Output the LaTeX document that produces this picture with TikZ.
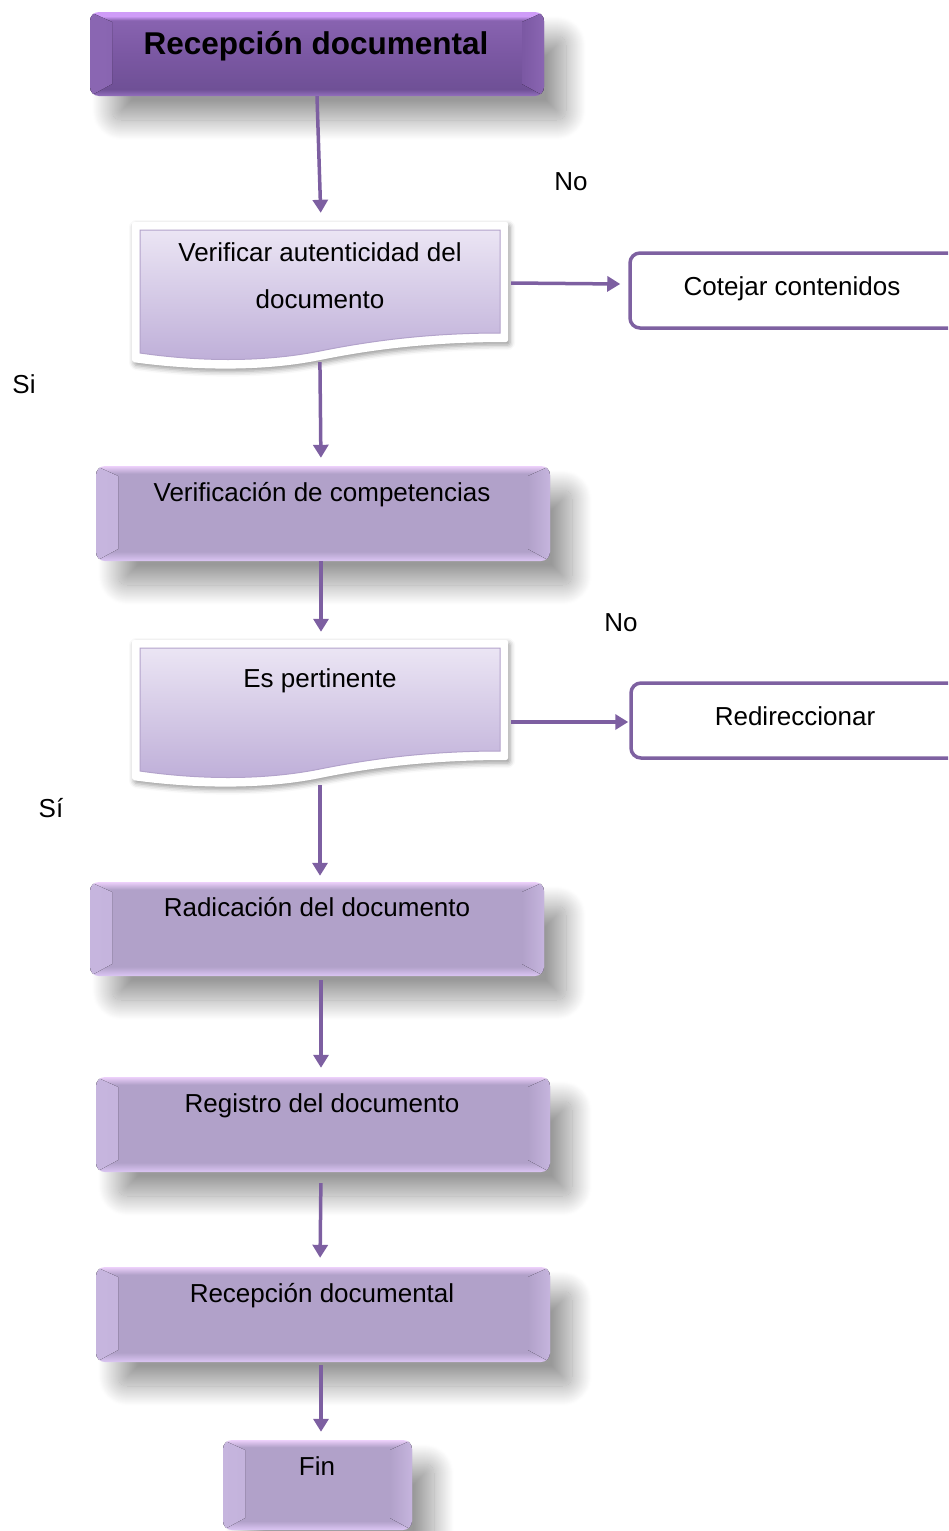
\documentclass[tikz,border=0pt]{standalone}
\usepackage{fontspec}
\setmainfont{Liberation Sans}
\usetikzlibrary{arrows.meta,shadows.blur}

\definecolor{arrowc}{HTML}{7D5FA1}
\definecolor{framec}{HTML}{7E61A1}
\definecolor{lbBot}{HTML}{DCC6F4}
\definecolor{lbMid}{HTML}{B1A1C9}
\definecolor{lbTop}{HTML}{EDD0FB}
\definecolor{lbSide}{HTML}{C6B5DE}
\definecolor{pkBot}{HTML}{9470BE}
\definecolor{pkLow}{HTML}{6F5096}
\definecolor{pkMid}{HTML}{7B58A3}
\definecolor{pkHigh}{HTML}{8863B0}
\definecolor{pkTop}{HTML}{CF9CF8}
\definecolor{pkSide}{HTML}{8A66B2}
\definecolor{docTop}{HTML}{EBE5F4}
\definecolor{docBot}{HTML}{BEAED8}
\definecolor{docEdge}{HTML}{B3A3CB}

% light button: thin bright bands at top and bottom
\pgfdeclareverticalshading{lilacbevel}{100bp}{color(0bp)=(lbBot); color(25bp)=(lbBot);
  color(30bp)=(lbMid); color(71bp)=(lbMid); color(75bp)=(lbTop); color(100bp)=(lbTop)}
% dark header button
\pgfdeclareverticalshading{plumbevel}{100bp}{color(0bp)=(pkBot); color(25bp)=(pkBot);
  color(29bp)=(pkLow); color(50bp)=(pkMid); color(70bp)=(pkHigh); color(72.5bp)=(pkTop); color(100bp)=(pkTop)}

\tikzset{
  btnshadow/.style={blur shadow={shadow xshift=22pt, shadow yshift=-24pt,
      shadow blur radius=20pt, shadow blur steps=40, shadow opacity=40}},
  % bevelled side faces of a button
  sidebevel/.style 2 args={path picture={
      \fill[sharp corners, left color=#1, right color=#2]
        (path picture bounding box.north west) -- ([shift={(22,10)}]path picture bounding box.north west)
        -- ([shift={(22,-12)}]path picture bounding box.south west) -- (path picture bounding box.south west) -- cycle;
      \fill[sharp corners, right color=#1, left color=#2]
        (path picture bounding box.north east) -- ([shift={(-22,10)}]path picture bounding box.north east)
        -- ([shift={(-22,-12)}]path picture bounding box.south east) -- (path picture bounding box.south east) -- cycle;
  }},
  lightbtn/.style={rectangle, rounded corners=9pt, shading=lilacbevel, btnshadow, sidebevel={lbSide}{lbMid},
      minimum width=454pt, minimum height=95pt, inner sep=0pt},
  darkbtn/.style={rectangle, rounded corners=9pt, shading=plumbevel, btnshadow, sidebevel={pkSide}{pkMid},
      minimum width=454pt, minimum height=84pt, inner sep=0pt},
  sidebox/.style={rectangle, rounded corners=10pt, draw=framec, line width=3.5pt, fill=white,
      minimum width=350pt, minimum height=75pt, inner sep=0pt},
  ghost/.style={rectangle, inner sep=0pt, minimum width=376pt, minimum height=148pt},
  lbl/.style={font=\fontsize{26}{31}\selectfont, inner sep=0pt, text height=0.75em, text depth=0.21em},
  arr/.style={draw=arrowc, line width=3.5pt, -{Triangle[length=13pt,width=15pt]}},
  docpic/.pic={
    \path[fill=white, blur shadow={shadow xshift=2pt, shadow yshift=-3pt,
        shadow blur radius=5pt, shadow opacity=40}, rounded corners=2pt]
      (-188,-74) -- (188,-74) -- (188,46)
      .. controls (100,46) and (40,56) .. (0,64)
      .. controls (-60,76) and (-130,74) .. (-188,66) -- cycle;
    \path[top color=docTop, bottom color=docBot, draw=docEdge, line width=1pt]
      (-180,-66) -- (180,-66) -- (180,37)
      .. controls (100,37) and (40,47) .. (0,55)
      .. controls (-60,67) and (-125,65) .. (-180,57) -- cycle;
  }
}

\begin{document}
\begin{tikzpicture}[x=1pt,y=-1pt]
\useasboundingbox (0,0) rectangle (948,1531);
\clip (0,0) rectangle (948,1531);

% process steps
\node[darkbtn] (top) at (317,54) {};
\node[lbl, font=\bfseries\fontsize{31.5}{36}\selectfont] (ttop) at (316,52) {Recepción documental};

\pic at (320,296) {docpic};
\node[ghost] (ver) at (320,296) {};
\node[lbl, align=center, font=\fontsize{26}{47}\selectfont, text height=, text depth=] (tver) at (320,276)
  {Verificar autenticidad del\\documento};

\node[sidebox] (cot) at (805,290.5) {};
\node[lbl] (tcot) at (792,293) {Cotejar contenidos};

\node[lightbtn] (comp) at (323,513.5) {};
\node[lbl] (tcomp) at (322,499) {Verificación de competencias};

\pic at (320,714) {docpic};
\node[ghost] (pert) at (320,714) {};
\node[lbl] (tpert) at (320,685) {Es pertinente};

\node[sidebox] (redir) at (806,720.5) {};
\node[lbl] (tredir) at (795,723) {Redireccionar};

\node[lightbtn, minimum height=94pt] (radic) at (317,929) {};
\node[lbl] (tradic) at (317,914) {Radicación del documento};

\node[lightbtn] (regis) at (323,1124.5) {};
\node[lbl] (tregis) at (322,1110) {Registro del documento};

\node[lightbtn] (recep) at (323,1314.5) {};
\node[lbl] (trecep) at (322,1300) {Recepción documental};

\node[lightbtn, minimum width=189pt, minimum height=90pt] (fin) at (317.5,1485) {};
\node[lbl] (tfin) at (317,1473) {Fin};

% branch labels
\node[lbl] (no1) at (571,188) {No};
\node[lbl] (si1) at (24,391) {Si};
\node[lbl] (no2) at (621,629) {No};
\node[lbl] (si2) at (51,815) {Sí};

% connectors
\draw[arr, shorten >=9pt] (top.south) -- ([xshift=1pt]ver.north);
\draw[arr, shorten <=-8pt, shorten >=8pt] (ver.south) -- ([xshift=1pt]ver.south |- comp.north);
\draw[arr, shorten >=8pt] ([xshift=-2pt]comp.south) -- ([xshift=-2pt]comp.south |- pert.north);
\draw[arr, shorten <=-3pt, shorten >=6pt] (pert.south) -- (pert.south |- radic.north);
\draw[arr, shorten <=4pt, shorten >=9pt] ([xshift=4pt]radic.south) -- ([xshift=-2pt]regis.north);
\draw[arr, shorten <=11pt, shorten >=9pt] ([xshift=-2pt]regis.south) -- ([xshift=-3pt]recep.north);
\draw[arr, shorten <=3pt, shorten >=8pt] ([xshift=-2pt]recep.south) -- ([xshift=3.5pt]fin.north);
\draw[arr] ([shift={(3,-13)}]ver.east) -- ([shift={(-8,-6.5)}]cot.west);
\draw[arr] ([shift={(3,8)}]pert.east) -- ([shift={(-1,1.5)}]redir.west);
\end{tikzpicture}
\end{document}
